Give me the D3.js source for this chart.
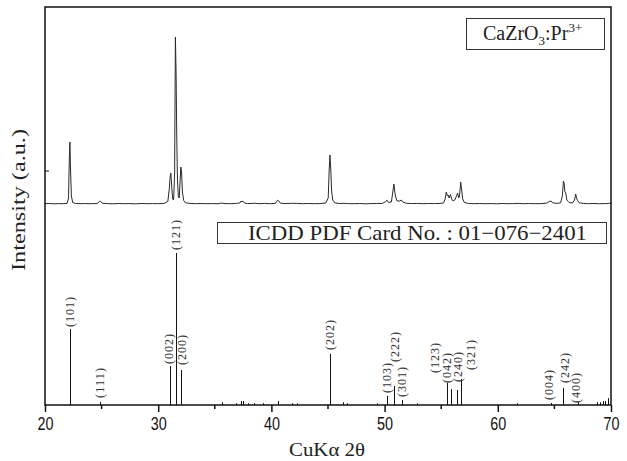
<!DOCTYPE html>
<html>
<head>
<meta charset="utf-8">
<script src="https://cdn.jsdelivr.net/npm/d3@7"></script>
<style>
  body { margin: 0; background: #fff; }
  svg { display: block; }
</style>
</head>
<body>
<svg id="chart" width="627" height="461"></svg>
<script>
var trace = [
  [20.0,3],[20.4,5],[20.8,2],[21.2,4],[21.6,3],[21.95,6],[22.08,60],[22.14,420],[22.2,620],[22.26,330],[22.33,80],[22.45,15],
  [22.7,5],[23.1,3],[23.5,5],[23.9,3],[24.3,4],[24.65,6],[24.8,25],[24.9,28],[25.05,8],[25.5,4],[26.0,2],[26.5,5],[27.0,3],
  [27.5,4],[28.0,2],[28.5,5],[29.0,3],[29.5,4],[30.0,3],[30.5,5],[30.85,25],[30.98,150],[31.06,280],[31.12,310],[31.2,160],
  [31.28,50],[31.36,40],[31.45,300],[31.52,1670],[31.58,1310],[31.64,670],[31.7,250],[31.78,70],[31.86,60],[31.94,240],
  [32.0,370],[32.06,330],[32.14,120],[32.25,35],[32.4,12],[32.8,6],[33.3,3],[33.8,5],[34.3,3],[34.8,4],[35.3,3],[35.6,9],
  [35.9,4],[36.4,3],[36.9,6],[37.2,10],[37.32,30],[37.4,22],[37.5,28],[37.62,10],[37.9,4],[38.5,7],[39.0,3],[39.4,6],
  [39.9,3],[40.35,6],[40.55,38],[40.65,30],[40.8,8],[41.2,4],[41.8,7],[42.3,6],[42.8,3],[43.3,5],[43.8,3],[44.3,4],
  [44.8,10],[45.02,60],[45.1,330],[45.17,490],[45.24,360],[45.32,130],[45.42,40],[45.6,12],[46.0,5],[46.4,7],[46.8,4],
  [47.3,3],[47.8,5],[48.3,2],[48.8,4],[49.3,5],[49.8,6],[50.1,25],[50.22,38],[50.35,15],[50.6,20],[50.75,140],[50.82,200],
  [50.9,120],[50.98,70],[51.1,30],[51.35,30],[51.48,40],[51.6,20],[51.9,8],[52.4,4],[52.9,6],[53.4,3],[53.9,5],[54.4,4],
  [54.9,6],[55.2,10],[55.35,50],[55.45,120],[55.55,80],[55.62,90],[55.7,60],[55.82,95],[55.92,50],[56.05,30],[56.2,40],
  [56.35,80],[56.45,110],[56.55,60],[56.62,80],[56.72,220],[56.8,150],[56.9,50],[57.05,15],[57.4,5],[57.9,3],[58.4,5],
  [58.9,3],[59.4,4],[59.9,2],[60.4,5],[60.9,3],[61.4,4],[61.8,6],[62.3,3],[62.8,5],[63.3,3],[63.8,4],[64.3,8],[64.55,25],
  [64.7,30],[64.85,12],[65.2,6],[65.55,12],[65.7,80],[65.8,230],[65.87,200],[65.93,120],[66.0,110],[66.1,40],[66.3,15],
  [66.6,10],[66.78,40],[66.88,100],[66.95,60],[67.05,35],[67.2,12],[67.6,5],[68.0,3],[68.5,5],[69.0,3],[69.5,4],[69.8,6],[70.0,10]
];

// ICDD card 01-076-2401, labelled lines
var refHkl = ["(101)","(111)","(002)","(121)","(200)","(202)","(103)","(222)","(301)","(123)","(042)","(240)","(321)","(004)","(242)","(400)"];
var refPos = [22.2, 24.86, 31.08, 31.55, 32.02, 45.2, 50.2, 50.85, 51.5, 55.5, 55.85, 56.4, 56.72, 64.7, 65.8, 67.1];
var refInt = [50, 2, 25.7, 100, 23, 33.6, 5.9, 12.5, 3.3, 14.5, 10.5, 9.9, 17.1, 1.3, 11.2, 2];

// weak unlabelled lines
var minorPos = [35.6, 36.9, 37.3, 37.5, 37.9, 38.5, 39.3, 40.6, 41.8, 42.3, 46.3, 46.7, 49.3, 52.9, 61.7, 68.8, 69.0, 69.3, 69.5, 69.7];
var minorInt = [1.8, 1.2, 2.6, 2.6, 1.2, 1.2, 1.2, 2.6, 1.2, 1.2, 1.8, 1.2, 1.2, 1.2, 1.2, 1.8, 1.8, 2.6, 2.6, 4.5];

var xTicks = [20, 30, 40, 50, 60, 70];
var xMinor = [25, 35, 45, 55, 65];

// label nudges where the labels would collide (px)
var nudge = {"(101)":[0,1],"(111)":[0,-1],"(002)":[-2,1],"(200)":[1,-2],"(202)":[0,-1],"(222)":[1,-21],"(123)":[-12,-7],
  "(042)":[-4,-3],"(240)":[1,-5],"(321)":[10,-6],"(004)":[-2,0],"(242)":[1,-2],"(400)":[-2,4]};

var svg = d3.select("#chart");
var pLeft = 45, pRight = 611, pTop = 7, pBottom = 405;

var x = d3.scaleLinear().domain([20, 70]).range([pLeft, pRight]);
var yTrace = d3.scaleLinear().domain([0, 1670]).range([204, 37]);
var yRef = d3.scaleLinear().domain([0, 100]).range([pBottom, 253]);

var serif = "'Liberation Serif','DejaVu Serif',serif";

// measured pattern
var line = d3.line()
             .x(function(d) { return x(d[0]) })
             .y(function(d) { return yTrace(d[1]) });

svg.append("path")
   .datum(trace)
   .attr("fill", "none")
   .attr("stroke", "#2a2a2a")
   .attr("stroke-width", 1)
   .attr("stroke-linejoin", "round")
   .attr("d", line);

// reference lines
var refs = refPos.map(function(p, i) { return {pos: p, val: refInt[i], hkl: refHkl[i]} });
var minors = minorPos.map(function(p, i) { return {pos: p, val: minorInt[i]} });

svg.selectAll(".ref")
   .data(refs.concat(minors))
   .enter()
   .append("line")
   .attr("class", "ref")
   .attr("x1", function(d) { return Math.round(x(d.pos)) + 0.5 })
   .attr("x2", function(d) { return Math.round(x(d.pos)) + 0.5 })
   .attr("y1", pBottom)
   .attr("y2", function(d) { return yRef(d.val) })
   .attr("stroke", "#111")
   .attr("stroke-width", 1);

svg.selectAll(".hkl")
   .data(refs)
   .enter()
   .append("text")
   .attr("class", "hkl")
   .attr("transform", function(d) {
      var n = nudge[d.hkl] || [0, 0];
      return "translate(" + (x(d.pos) + n[0]) + "," + (yRef(d.val) - 3 + n[1]) + ") rotate(-90)";
   })
   .attr("dy", "0.35em")
   .attr("textLength", 30)
   .style("font-family", serif)
   .style("font-size", "12px")
   .attr("fill", "#333")
   .text(function(d) { return d.hkl });

// frame
svg.append("rect")
   .attr("x", pLeft).attr("y", pTop)
   .attr("width", pRight - pLeft).attr("height", pBottom - pTop)
   .attr("fill", "none")
   .attr("stroke", "#111")
   .attr("stroke-width", 1.5);

// x axis
var axis = d3.axisBottom(x)
             .tickValues(xTicks)
             .tickSize(7)
             .tickPadding(5)
             .tickFormat(d3.format("d"));

var gx = svg.append("g")
            .attr("transform", "translate(0," + pBottom + ")")
            .call(axis);

gx.select(".domain").remove();
gx.selectAll(".tick line").attr("stroke", "#111").attr("stroke-width", 1.5);
gx.selectAll(".tick text")
  .attr("fill", "#111")
  .attr("textLength", 16)
  .attr("lengthAdjust", "spacingAndGlyphs")
  .style("font-family", "'Liberation Sans',Arial,sans-serif")
  .style("font-size", "19px");

gx.selectAll(".minor")
  .data(xMinor)
  .enter()
  .append("line")
  .attr("class", "minor")
  .attr("x1", function(d) { return x(d) }).attr("x2", function(d) { return x(d) })
  .attr("y1", 0).attr("y2", 4)
  .attr("stroke", "#111")
  .attr("stroke-width", 1.5);

// left axis small tick
svg.append("line")
   .attr("x1", pLeft).attr("x2", pLeft + 4)
   .attr("y1", 171).attr("y2", 171)
   .attr("stroke", "#111").attr("stroke-width", 1);

// axis titles
svg.append("text")
   .attr("x", 327).attr("y", 456)
   .attr("text-anchor", "middle")
   .attr("textLength", 76)
   .attr("lengthAdjust", "spacingAndGlyphs")
   .style("font-family", serif)
   .style("font-size", "18px")
   .attr("fill", "#222")
   .text("CuKα 2θ");

svg.append("text")
   .attr("transform", "translate(25,200) rotate(-90)")
   .attr("text-anchor", "middle")
   .attr("textLength", 142)
   .attr("lengthAdjust", "spacingAndGlyphs")
   .style("font-family", serif)
   .style("font-size", "19px")
   .attr("fill", "#222")
   .text("Intensity (a.u.)");

// sample legend
svg.append("rect")
   .attr("x", 466.5).attr("y", 18.5).attr("width", 138).attr("height", 31)
   .attr("fill", "#fff").attr("stroke", "#333").attr("stroke-width", 1);

var lg = svg.append("text")
            .attr("x", 483).attr("y", 40)
            .style("font-family", serif)
            .style("font-size", "20px")
            .attr("fill", "#222");
lg.append("tspan").text("CaZrO");
lg.append("tspan").attr("dy", 5).style("font-size", "13px").text("3");
lg.append("tspan").attr("dy", -5).text(":Pr");
lg.append("tspan").attr("dy", -8).style("font-size", "13px").text("3+");

// card legend
svg.append("rect")
   .attr("x", 217.5).attr("y", 222.5).attr("width", 389).attr("height", 21)
   .attr("fill", "#fff").attr("stroke", "#333").attr("stroke-width", 1);

svg.append("text")
   .attr("x", 248).attr("y", 240)
   .attr("textLength", 339)
   .attr("lengthAdjust", "spacingAndGlyphs")
   .style("font-family", serif)
   .style("font-size", "21px")
   .attr("fill", "#222")
   .text("ICDD PDF Card No.\u00a0: 01\u2212076\u22122401");
</script>
</body>
</html>
